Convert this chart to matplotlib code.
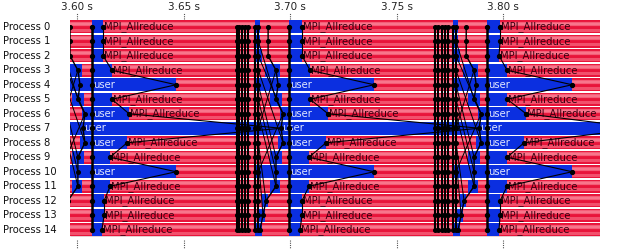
import matplotlib
matplotlib.use("Agg")
import matplotlib.pyplot as plt
import matplotlib.transforms as mtransforms

# ---------------------------------------------------------------
# data read from the timeline
processes = ["Process 0", "Process 1", "Process 2", "Process 3", "Process 4",
             "Process 5", "Process 6", "Process 7", "Process 8", "Process 9",
             "Process 10", "Process 11", "Process 12", "Process 13", "Process 14"]

t_min = 3.5967
t_max = 3.8455
tick_values = [3.60, 3.65, 3.70, 3.75, 3.80]
tick_labels = ["3.60 s", "3.65 s", "3.70 s", "3.75 s", "3.80 s"]

# start of the user phase of each iteration (long vertical line)
iter_start = [3.6070, 3.6995, 3.7925]

# end of the user phase per process / iteration (process 7 is in user all the time)
user_end = [
    [3.6122, 3.7056, 3.7986],  # 0
    [3.6122, 3.7056, 3.7986],  # 1
    [3.6122, 3.7056, 3.7981],  # 2
    [3.6164, 3.7094, 3.8019],  # 3
    [3.6465, 3.7394, 3.8324],  # 4
    [3.6164, 3.7094, 3.8019],  # 5
    [3.6244, 3.7178, 3.8108],  # 6
    None,                      # 7
    [3.6235, 3.7169, 3.8099],  # 8
    [3.6155, 3.7089, 3.8019],  # 9
    [3.6465, 3.7394, 3.8324],  # 10
    [3.6155, 3.7089, 3.8019],  # 11
    [3.6127, 3.7056, 3.7986],  # 12
    [3.6127, 3.7056, 3.7986],  # 13
    [3.6117, 3.7047, 3.7981],  # 14
]

# short user bursts before each iteration (start, end)
pre_user = [
    [(3.5906, 3.5929), (3.6836, 3.6859), (3.7766, 3.7789)],  # 0
    [(3.5906, 3.5929), (3.6836, 3.6859), (3.7766, 3.7789)],  # 1
    [(3.5906, 3.5939), (3.6836, 3.6869), (3.7766, 3.7799)],  # 2
    [(3.5953, 3.6023), (3.6883, 3.6953), (3.7813, 3.7883)],  # 3
    [(3.5906, 3.6070), (3.6836, 3.6995), (3.7766, 3.7925)],  # 4
    [(3.5976, 3.6032), (3.6906, 3.6962), (3.7836, 3.7892)],  # 5
    [(3.6023, 3.6070), (3.6953, 3.6995), (3.7883, 3.7925)],  # 6
    None,                                                    # 7
    [(3.6014, 3.6070), (3.6944, 3.6995), (3.7874, 3.7925)],  # 8
    [(3.5976, 3.6032), (3.6906, 3.6962), (3.7836, 3.7892)],  # 9
    [(3.5906, 3.6070), (3.6836, 3.6995), (3.7766, 3.7925)],  # 10
    [(3.5976, 3.6023), (3.6906, 3.6953), (3.7836, 3.7883)],  # 11
    [(3.5939, 3.5967), (3.6869, 3.6897), (3.7799, 3.7827)],  # 12
    [(3.5920, 3.5953), (3.6850, 3.6883), (3.7780, 3.7813)],  # 13
    [(3.5906, 3.5939), (3.6836, 3.6869), (3.7766, 3.7799)],  # 14
]

# bundles of collective lines (all processes)
dense_lines = [3.6750, 3.6762, 3.6776, 3.6789, 3.6804, 3.6836, 3.6851,
               3.7681, 3.7696, 3.7712, 3.7728, 3.7743, 3.7767, 3.7779]

# zig-zag sync line, one point per process, per iteration
sync_x = [
    [3.5967, 3.5967, 3.5967, 3.6004, 3.6014, 3.6004, 3.6037, 3.6028,
     3.6037, 3.6004, 3.6004, 3.6004, 3.5957, 3.5943, 3.5929],
    [3.6897, 3.6897, 3.6897, 3.6934, 3.6944, 3.6934, 3.6967, 3.6958,
     3.6967, 3.6934, 3.6934, 3.6934, 3.6887, 3.6873, 3.6859],
    [3.7827, 3.7827, 3.7827, 3.7864, 3.7874, 3.7864, 3.7897, 3.7888,
     3.7897, 3.7864, 3.7864, 3.7864, 3.7817, 3.7803, 3.7789],
]

# messages between neighbours (sender, receiver) at the end of user phase
msg_pairs = [(0, 1), (1, 2), (2, 3), (3, 4), (4, 5), (5, 6),
             (8, 9), (9, 10), (10, 11), (11, 12), (12, 13), (13, 14)]
to_proc7 = [6, 8]
# crossing messages inside the collective bundle
mesh_from = [3.5921, 3.6851, 3.7779]
mesh_pairs = [(2, 6), (3, 8), (4, 9), (5, 10), (6, 11), (8, 12), (1, 5), (9, 13), (7, 3), (10, 6)]

# ---------------------------------------------------------------
red = "#e8143a"
pink = "#ff9aab"
blue = "#0b2fe0"
n = len(processes)
rows = list(range(n))
bar_h = 0.93

fig = plt.figure(figsize=(6.22, 2.49), dpi=100)
ax = fig.add_axes([70 / 622, 12 / 249, 530 / 622, 217.5 / 249])
ax.set_xlim(t_min, t_max)
ax.set_ylim(n - 0.5, -0.5)

# MPI_Allreduce background (red with soft light bands)
ax.barh(rows, t_max - t_min + 0.01, left=t_min - 0.005, height=bar_h, color=red, zorder=1)
for r in rows:
    for off, lw, a in [(-0.22, 3.0, 0.55), (-0.22, 1.2, 0.5), (0.2, 2.2, 0.45)]:
        ax.hlines(r + off, t_min - 0.005, t_max + 0.005, color=pink, lw=lw, alpha=a, zorder=1.5)
ax.hlines(n - 0.5 + 0.0, t_min, t_max, color="#7a1020", lw=1.0, zorder=1.6)

# user phases
for r in rows:
    if user_end[r] is None:
        ax.broken_barh([(t_min - 0.005, t_max - t_min + 0.01)], (r - bar_h / 2, bar_h),
                       facecolor=blue, zorder=2)
        continue
    segs = []
    for k in range(len(iter_start)):
        s, e = pre_user[r][k]
        segs.append((s, e - s))
        segs.append((iter_start[k], user_end[r][k] - iter_start[k]))
    ax.broken_barh(segs, (r - bar_h / 2, bar_h), facecolor=blue, zorder=2)

# labels
for r in rows:
    if user_end[r] is None:
        for k in range(len(sync_x)):
            ax.text(sync_x[k][r] + 0.0004, r, "user", color="#dfe6ff", fontsize=7.2,
                    va="center", ha="left", zorder=3, clip_on=True)
        continue
    for k in range(len(iter_start)):
        e = user_end[r][k]
        if e - iter_start[k] > 0.012:
            ax.text(iter_start[k] + 0.0006, r, "user", color="#dfe6ff", fontsize=7.2,
                    va="center", ha="left", zorder=3, clip_on=True)
        bounds = [d for d in dense_lines if d > e] + [p[0] for p in pre_user[r] if p[0] > e] + [t_max]
        if min(bounds) - e > 0.032:
            ax.text(e + 0.0004, r, "MPI_Allreduce", color="#3a0010", fontsize=7.2,
                    va="center", ha="left", zorder=3, clip_on=True)

# messages
for k in range(len(iter_start)):
    for a, b in msg_pairs:
        ax.plot([user_end[a][k], user_end[b][k]], [a, b], color="black", lw=0.8, zorder=4)
    for a in to_proc7:
        nxt = sync_x[k + 1][7] if k + 1 < len(sync_x) else t_max + 0.02
        ax.plot([user_end[a][k], nxt], [a, 7], color="black", lw=0.8, zorder=4)
    for a, b in mesh_pairs:
        ax.plot([mesh_from[k], sync_x[k][b]], [a, b], color="black", lw=0.7, zorder=4)

# sync zig-zag lines
for k in range(len(sync_x)):
    ax.plot(sync_x[k], rows, color="black", lw=1.0, marker="o", ms=2.6, zorder=5)

# collective bundles
for d in dense_lines:
    ax.plot([d] * n, rows, color="black", lw=1.5, marker="o", ms=2.6, zorder=5)
for s in iter_start:
    ax.plot([s] * n, rows, color="black", lw=1.8, marker="o", ms=2.8, zorder=5)

# user end dots
for r in rows:
    if user_end[r] is not None:
        ax.plot(user_end[r], [r] * len(user_end[r]), "o", color="black", ms=2.8, zorder=5)

# axes decoration
for sp in ax.spines.values():
    sp.set_visible(False)
ax.set_xticks([])
ax.set_yticks([])
trans = mtransforms.blended_transform_factory(ax.transData, ax.transAxes)
for v, lab in zip(tick_values, tick_labels):
    ax.plot([v, v], [1.0, 1.03], transform=trans, color="#555555", lw=0.8,
            ls=(0, (1, 1)), clip_on=False)
    ax.text(v, 1.035, lab, transform=trans, ha="center", va="bottom",
            fontsize=7.5, color="#222222")
    ax.plot([v, v], [-0.015, -0.06], transform=trans, color="#555555", lw=0.8,
            ls=(0, (1, 1)), clip_on=False)
ytrans = mtransforms.blended_transform_factory(ax.transAxes, ax.transData)
for r, name in enumerate(processes):
    ax.text(-0.126, r, name, transform=ytrans, ha="left", va="center",
            fontsize=7.2, color="#111111")

fig.savefig("out.png", dpi=100)
